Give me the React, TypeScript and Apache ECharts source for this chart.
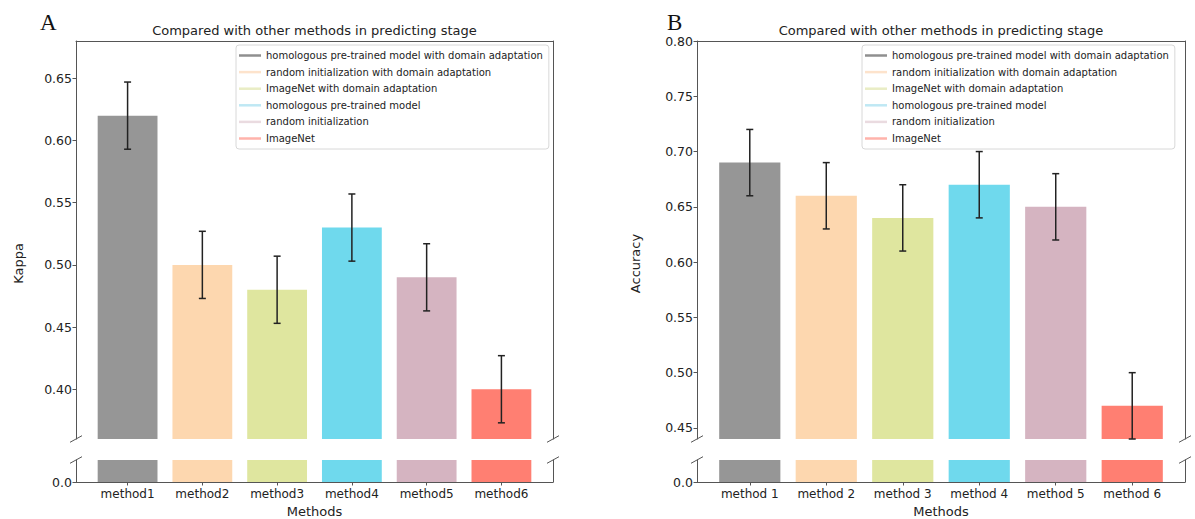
import React, { useEffect, useRef } from 'react';
import * as echarts from 'echarts';

// ---- data ----
const legendNames = [
  'homologous pre-trained model with domain adaptation',
  'random initialization with domain adaptation',
  'ImageNet with domain adaptation',
  'homologous pre-trained model',
  'random initialization',
  'ImageNet',
];
const categoriesA = ['method1', 'method2', 'method3', 'method4', 'method5', 'method6'];
const categoriesB = ['method 1', 'method 2', 'method 3', 'method 4', 'method 5', 'method 6'];
const kappaValues = [0.62, 0.5, 0.48, 0.53, 0.49, 0.4];
const kappaErrors = [0.027, 0.027, 0.027, 0.027, 0.027, 0.027];
const accuracyValues = [0.69, 0.66, 0.64, 0.67, 0.65, 0.47];
const accuracyErrors = [0.03, 0.03, 0.03, 0.03, 0.03, 0.03];
const kappaTicks = [0.4, 0.45, 0.5, 0.55, 0.6, 0.65];
const accuracyTicks = [0.45, 0.5, 0.55, 0.6, 0.65, 0.7, 0.75, 0.8];
const lowerTicks = [0];
const categoryPositions = [0, 1, 2, 3, 4, 5];

const barColors = ['#969696', '#FDD7AF', '#DFE69F', '#6FD9ED', '#D5B4C1', '#FF7F72'];
const legendColors = ['#8f8f8f', '#fde3cc', '#e9edc5', '#bfe8f4', '#eadbe0', '#ffb3ab'];

// ---- layout ----
const FONT = "'DejaVu Sans', sans-serif";
const UP_TOP = 41;
const UP_BOTTOM = 439;
const LOW_TOP = 460;
const LOW_BOTTOM = 486;
const panels = [
  {
    left: 76, right: 553, letter: 'A', letterX: 40, yName: 'Kappa', yNameX: 18,
    yMin: 0.36, yMax: 0.68, ticks: kappaTicks, values: kappaValues, errors: kappaErrors,
    cats: categoriesA, legendLeft: 236,
  },
  {
    left: 697, right: 1185, letter: 'B', letterX: 667, yName: 'Accuracy', yNameX: 635,
    yMin: 0.44, yMax: 0.8, ticks: accuracyTicks, values: accuracyValues, errors: accuracyErrors,
    cats: categoriesB, legendLeft: 862,
  },
];
const X_MIN = -0.69;
const X_MAX = 5.69;
const SPINE = '#555';

function buildOption() {
  const grid: any[] = [];
  const xAxis: any[] = [];
  const yAxis: any[] = [];
  const series: any[] = [];
  const legend: any[] = [];
  const graphic: any[] = [];

  panels.forEach((p, pi) => {
    const w = p.right - p.left;
    const gUp = pi * 2;
    const gLow = pi * 2 + 1;
    grid.push({ left: p.left, top: UP_TOP, width: w, height: UP_BOTTOM - UP_TOP });
    grid.push({ left: p.left, top: LOW_TOP, width: w, height: LOW_BOTTOM - LOW_TOP });

    const hidden = { show: false };
    const line = { show: true, onZero: false, lineStyle: { color: SPINE, width: 1 } };

    xAxis.push({
      type: 'value', gridIndex: gUp, min: X_MIN, max: X_MAX, position: 'top',
      axisLine: line, axisTick: hidden, axisLabel: hidden, splitLine: hidden,
    });
    xAxis.push({
      type: 'value', gridIndex: gLow, min: X_MIN, max: X_MAX, position: 'bottom',
      axisLine: line,
      axisTick: { show: true, length: 3.5, customValues: categoryPositions, lineStyle: { color: SPINE } },
      axisLabel: {
        show: true, customValues: categoryPositions, margin: 6,
        formatter: (v: number) => p.cats[Math.round(v)],
        fontFamily: FONT, fontSize: 12, color: '#222',
      },
      splitLine: hidden,
      name: 'Methods', nameLocation: 'middle', nameGap: 23,
      nameTextStyle: { fontFamily: FONT, fontSize: 13, color: '#222' },
    });
    yAxis.push({
      type: 'value', gridIndex: gUp, min: p.yMin, max: p.yMax, position: 'left',
      axisLine: line,
      axisTick: { show: true, length: 3.5, customValues: p.ticks, lineStyle: { color: SPINE } },
      axisLabel: {
        show: true, customValues: p.ticks, margin: 4,
        formatter: (v: number) => v.toFixed(2),
        fontFamily: FONT, fontSize: 12.5, color: '#222',
      },
      splitLine: hidden,
    });
    yAxis.push({
      type: 'value', gridIndex: gUp, min: p.yMin, max: p.yMax, position: 'right',
      axisLine: line, axisTick: hidden, axisLabel: hidden, splitLine: hidden,
    });
    yAxis.push({
      type: 'value', gridIndex: gLow, min: 0, max: 0.05, position: 'left',
      axisLine: line,
      axisTick: { show: true, length: 3.5, customValues: lowerTicks, lineStyle: { color: SPINE } },
      axisLabel: {
        show: true, customValues: lowerTicks, margin: 4,
        formatter: (v: number) => v.toFixed(1),
        fontFamily: FONT, fontSize: 12.5, color: '#222',
      },
      splitLine: hidden,
    });
    yAxis.push({
      type: 'value', gridIndex: gLow, min: 0, max: 0.05, position: 'right',
      axisLine: line, axisTick: hidden, axisLabel: hidden, splitLine: hidden,
    });

    const xUp = pi * 2;
    const xLow = pi * 2 + 1;
    const yUp = pi * 4;
    const yLow = pi * 4 + 2;

    legendNames.forEach((name, k) => {
      [
        [xUp, yUp],
        [xLow, yLow],
      ].forEach(([xi, yi]) => {
        series.push({
          type: 'bar', name, xAxisIndex: xi, yAxisIndex: yi,
          data: [[categoryPositions[k], p.values[k]]],
          barWidth: '80%', barGap: '-100%', clip: true,
          itemStyle: { color: barColors[k] },
          emphasis: { disabled: true },
        });
      });
    });

    series.push({
      type: 'custom', xAxisIndex: xUp, yAxisIndex: yUp, z: 10,
      encode: { x: 0, y: 1 },
      data: categoryPositions.map((c, k) => [c, p.values[k], p.errors[k]]),
      renderItem: (params: any, api: any) => {
        const x = api.value(0);
        const v = api.value(1);
        const e = api.value(2);
        const t = api.coord([x, v + e]);
        const b = api.coord([x, v - e]);
        const cap = 3.5;
        const st = { stroke: '#222', lineWidth: 1.5 };
        return {
          type: 'group',
          children: [
            { type: 'line', shape: { x1: t[0], y1: t[1], x2: b[0], y2: b[1] }, style: st },
            { type: 'line', shape: { x1: t[0] - cap, y1: t[1], x2: t[0] + cap, y2: t[1] }, style: st },
            { type: 'line', shape: { x1: b[0] - cap, y1: b[1], x2: b[0] + cap, y2: b[1] }, style: st },
          ],
        };
      },
    });

    legend.push({
      left: p.legendLeft, top: 45, orient: 'vertical', selectedMode: false,
      icon: 'rect', itemWidth: 22, itemHeight: 2.5, itemGap: 3.6,
      padding: [4, 6, 4, 3], borderColor: '#d8d8d8', borderWidth: 1, borderRadius: 3,
      backgroundColor: 'rgba(255,255,255,0.8)',
      textStyle: { fontFamily: FONT, fontSize: 10, color: '#222', lineHeight: 13 },
      data: legendNames.map((n, k) => ({ name: n, itemStyle: { color: legendColors[k] } })),
    });

    const cx = (p.left + p.right) / 2;
    graphic.push({
      type: 'text', x: cx, y: 30,
      style: { text: 'Compared with other methods in predicting stage', fontFamily: FONT, fontSize: 13, fill: '#222', textAlign: 'center', textVerticalAlign: 'middle' },
    });
    graphic.push({
      type: 'text', x: p.letterX, y: 22,
      style: { text: p.letter, fontFamily: "'Liberation Serif', serif", fontSize: 23, fill: '#111', textAlign: 'left', textVerticalAlign: 'middle' },
    });
    graphic.push({
      type: 'text', x: p.yNameX, y: (UP_TOP + LOW_BOTTOM) / 2, rotation: Math.PI / 2,
      style: { text: p.yName, fontFamily: FONT, fontSize: 13, fill: '#222', textAlign: 'center', textVerticalAlign: 'middle' },
    });
    [p.left, p.right].forEach((sx) => {
      [UP_BOTTOM, LOW_TOP].forEach((sy) => {
        graphic.push({
          type: 'line', shape: { x1: sx - 6, y1: sy + 3.3, x2: sx + 6, y2: sy - 3.3 },
          style: { stroke: SPINE, lineWidth: 1 },
        });
      });
    });
  });

  return { animation: false, grid, xAxis, yAxis, series, legend, graphic };
}

export default function App() {
  const ref = useRef<HTMLDivElement>(null);
  useEffect(() => {
    if (!ref.current) return;
    const chart = echarts.init(ref.current, undefined, { renderer: 'svg' });
    chart.setOption(buildOption() as any);
    return () => chart.dispose();
  }, []);
  return (
    <div
      ref={ref}
      style={{ position: 'fixed', left: 0, top: 0, width: 1195, height: 519, background: '#fff' }}
    />
  );
}
